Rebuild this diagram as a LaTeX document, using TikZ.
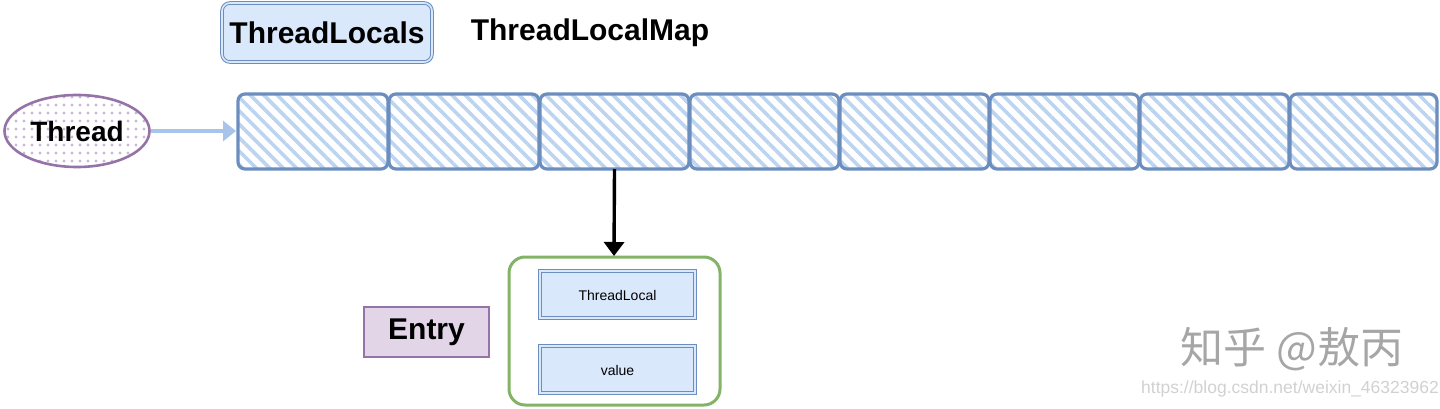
\documentclass[tikz,border=0pt]{standalone}
\usepackage{fontspec}
\setmainfont{Liberation Sans}
\newfontfamily\cjk{Noto Sans CJK SC}
\usetikzlibrary{patterns.meta,arrows.meta,shapes.geometric}
\definecolor{bluefill}{HTML}{DAE8FC}
\definecolor{bluestroke}{HTML}{6C8EBF}
\definecolor{hatchblue}{HTML}{BDD4F0}
\definecolor{purplestroke}{HTML}{9673A6}
\definecolor{purplefill}{HTML}{E1D5E7}
\definecolor{dotpurple}{HTML}{C9B8D9}
\definecolor{greenstroke}{HTML}{82B366}
\definecolor{arrowblue}{HTML}{A9C4EB}
\tikzset{
  cell/.style={draw=bluestroke, line width=3.2pt, rounded corners=7pt,
    pattern={Lines[angle=-45,distance=9.5pt,line width=3.6pt]}, pattern color=hatchblue},
  bluebox/.style={draw=bluestroke, fill=bluefill, double=bluefill, double distance=1.8pt, line width=1.1pt},
  boldtxt/.style={font=\bfseries\fontsize{30}{34}\selectfont, inner sep=0pt},
}
\begin{document}
\begin{tikzpicture}[x=1pt,y=-1pt]
\useasboundingbox (0,0) rectangle (1440,409);
% header
\draw[bluestroke, fill=bluefill, rounded corners=8pt, double=bluefill, double distance=1.6pt, line width=1pt]
  (222,3) rectangle (432,62);
\node[boldtxt] (tls) at (327,33) {ThreadLocals};
\node[boldtxt] (tlm) at (590,33) {ThreadLocalMap};
% cells
\foreach \i/\a/\b in {1/238/388,2/389/539,3/540/689,4/690/839,5/840/989,6/990/1139,7/1140/1289,8/1290/1437}{
  \draw[cell] (\a,94) rectangle (\b,169);
  \coordinate (c\i) at ({(\a+\b)/2},131.5);
  \coordinate (cb\i) at ({(\a+\b)/2},169);
}
\coordinate (mapleft) at (236,131);
% thread
\node[ellipse, draw=purplestroke, line width=2.6pt, minimum width=145pt, minimum height=72pt,
  pattern={Dots[distance=8pt,radius=1.6pt]}, pattern color=dotpurple] (threadE) at (77,131) {};
\node[font=\bfseries\fontsize{28}{30}\selectfont, inner sep=0pt] (thread) at (77,131) {Thread};
\draw[arrowblue, line width=3.6pt, -{Triangle[length=13pt, width=20pt]}] (threadE.east) -- (mapleft);
% entry group
\draw[greenstroke, line width=3pt, fill=white, rounded corners=16pt] (509,257) rectangle (720,405);
\coordinate (grouptop) at (614,256);
\draw[black, line width=3.4pt, -{Triangle[length=14pt, width=20pt]}] (cb3) -- (grouptop);
\draw[bluebox] (540,271) rectangle (695,318);
\node[font=\fontsize{14}{16}\selectfont] (tl) at (617.5,295) {ThreadLocal};
\draw[bluebox] (540,346) rectangle (695,393);
\node[font=\fontsize{14}{16}\selectfont] (val) at (617.5,370) {value};
\node[draw=purplestroke, fill=purplefill, line width=1.3pt, minimum width=125pt, minimum height=50pt, inner sep=0pt] (entrybox) at (426.5,332) {};
\node[boldtxt] (entry) at (426.5,332) {Entry};
% watermark
\node[text=black!35, font=\cjk\fontsize{43}{46}\selectfont] (wm) at (1292,349) {知乎 @敖丙};
\node[text=black!18, font=\fontsize{17.5}{20}\selectfont] (url) at (1290,389) {https://blog.csdn.net/weixin\_46323962};
\end{tikzpicture}
\end{document}
